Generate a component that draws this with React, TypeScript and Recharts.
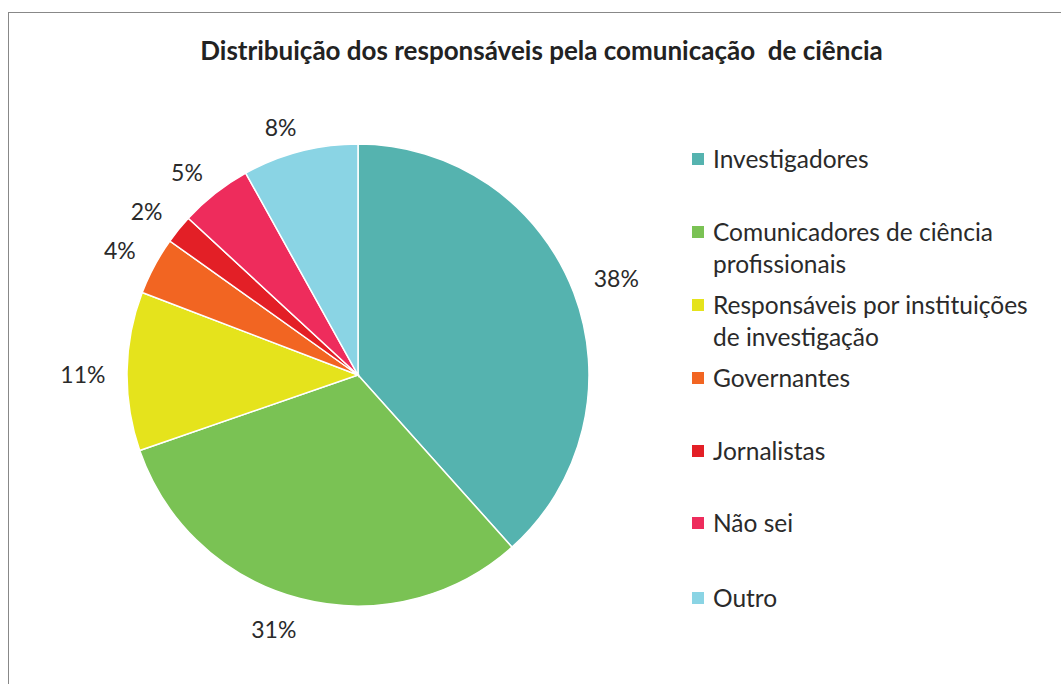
import { PieChart, Pie, Cell, Legend } from "recharts"

const categories = [
  "Investigadores",
  "Comunicadores de ciência profissionais",
  "Responsáveis por instituições de investigação",
  "Governantes",
  "Jornalistas",
  "Não sei",
  "Outro",
]
// legend lines as they wrap in the original
const legendLines = [
  ["Investigadores"],
  ["Comunicadores de ciência", "profissionais"],
  ["Responsáveis por instituições", "de investigação"],
  ["Governantes"],
  ["Jornalistas"],
  ["Não sei"],
  ["Outro"],
]
const percents = [38, 31, 11, 4, 2, 5, 8]
const colors = ["#55b3af", "#7ac254", "#e5e31c", "#f26522", "#e31f26", "#ee2c5c", "#8ad4e4"]

const data = categories.map((name, i) => ({ name, value: percents[i] }))

const FONT = "Lato, 'Open Sans', sans-serif"
const RAD = Math.PI / 180

const clamp = (v: number) => Math.max(-1, Math.min(1, v))

// outside-end label: the box corner nearest the pie sits just outside it
const renderLabel = (props: any) => {
  const { cx, cy, midAngle, outerRadius, value } = props
  const text = `${value}%`
  const hw = text.length * 6.7
  const hh = 11
  const dx = Math.cos(-midAngle * RAD)
  const dy = Math.sin(-midAngle * RAD)
  const x = cx + (outerRadius + 24) * dx + hw * clamp(dx * 4)
  const y = cy + (outerRadius + 17) * dy + hh * clamp(dy * 3) + 3
  return (
    <text x={x} y={y} textAnchor="middle" dominantBaseline="central" fill="#2a2a2a" fontSize={23} fontFamily={FONT}>
      {text}
    </text>
  )
}

// legend item centres (page y of first line)
const legendY = [159, 232, 305, 378, 451, 523, 598]

const renderLegend = () => (
  <div style={{ position: "relative", width: 360, height: 500 }}>
    {legendLines.map((lines, i) => (
      <div key={i} style={{ position: "absolute", left: 0, top: legendY[i] - 16, fontFamily: FONT, fontSize: 24.5, color: "#2a2a2a", lineHeight: "32px" }}>
        <span style={{ position: "absolute", left: 0, top: 10, width: 12, height: 12, background: colors[i] }} />
        {lines.map((l, j) => (
          <div key={j} style={{ marginLeft: 21, whiteSpace: "nowrap" }}>{l}</div>
        ))}
      </div>
    ))}
  </div>
)

export default function App() {
  return (
    <div style={{ position: "absolute", left: 0, top: 0, width: 1061, height: 684, background: "#fff", overflow: "hidden" }}>
      <div style={{ position: "absolute", left: 8, top: 12, width: 1100, height: 700, border: "1px solid #888", boxSizing: "border-box" }} />
      <div style={{ position: "absolute", left: 0, top: 33, width: 1083, textAlign: "center", fontFamily: FONT, fontWeight: "bold", fontSize: 26, lineHeight: "34px", color: "#222", whiteSpace: "pre" }}>
        {"Distribuição dos responsáveis pela comunicação  de ciência"}
      </div>
      <div style={{ position: "absolute", left: 0, top: 0 }}>
        <PieChart width={1061} height={684} margin={{ top: 0, right: 0, bottom: 0, left: 0 }}>
          <Pie
            data={data}
            dataKey="value"
            nameKey="name"
            cx={358}
            cy={375}
            outerRadius={231}
            startAngle={90}
            endAngle={-270}
            stroke="#fff"
            strokeWidth={1.5}
            label={renderLabel}
            labelLine={false}
            isAnimationActive={false}
          >
            {data.map((d, i) => (
              <Cell key={d.name} fill={colors[i]} />
            ))}
          </Pie>
          <Legend
            content={renderLegend}
            wrapperStyle={{ position: "absolute", left: 692, top: 0, width: 360 }}
          />
        </PieChart>
      </div>
    </div>
  )
}
